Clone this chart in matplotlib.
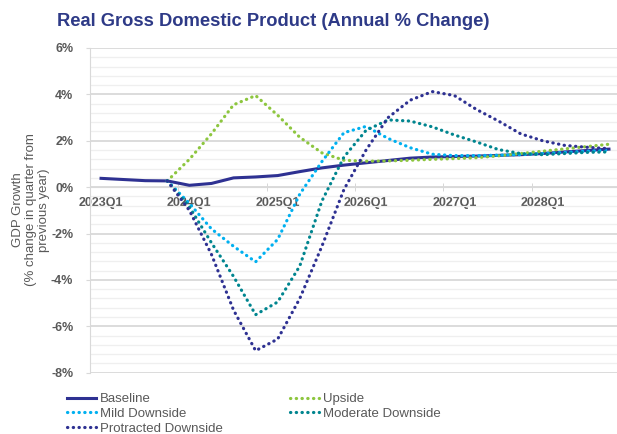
import numpy as np
import matplotlib.pyplot as plt
from matplotlib.ticker import MultipleLocator, FixedLocator, FuncFormatter

plt.rcParams['font.family'] = ['Liberation Sans', 'DejaVu Sans']

years = [2023, 2024, 2025, 2026, 2027, 2028]
quarters = [f"{y}Q{q}" for y in years for q in range(1, 5)]
nan = np.nan

# GDP growth, % change on same quarter of previous year
baseline = [0.38, 0.33, 0.28, 0.27, 0.08, 0.16, 0.40, 0.44, 0.50, 0.67, 0.83, 0.95,
            1.05, 1.15, 1.25, 1.30, 1.32, 1.34, 1.37, 1.40, 1.45, 1.52, 1.58, 1.64]
upside = [nan, nan, nan, 0.27, 1.20, 2.30, 3.55, 3.95, 3.10, 2.15, 1.48, 1.16,
          1.12, 1.13, 1.16, 1.20, 1.23, 1.27, 1.35, 1.45, 1.55, 1.65, 1.75, 1.85]
mild = [nan, nan, nan, 0.27, -0.70, -1.80, -2.55, -3.22, -2.25, -0.30, 1.10, 2.35,
        2.62, 2.10, 1.70, 1.42, 1.36, 1.36, 1.38, 1.40, 1.45, 1.50, 1.55, 1.60]
moderate = [nan, nan, nan, 0.27, -0.85, -2.40, -3.85, -5.50, -4.95, -3.40, -0.60, 1.30,
            2.45, 2.90, 2.85, 2.60, 2.25, 1.95, 1.62, 1.45, 1.40, 1.45, 1.50, 1.52]
protracted = [nan, nan, nan, 0.27, -1.00, -2.90, -5.30, -7.05, -6.55, -4.80, -2.55, -0.10,
              1.60, 3.00, 3.75, 4.12, 3.95, 3.35, 2.85, 2.30, 2.00, 1.80, 1.72, 1.66]

navy = '#2E3192'
grey_txt = '#595959'
dots = (0, (0.1, 1.7))

fig = plt.figure(figsize=(6.17, 4.34), dpi=100)
ax = fig.add_axes([90/617, 1 - 372.7/434, 530/617, (372.7 - 48)/434])

x = np.arange(len(quarters))
h_base, = ax.plot(x, baseline, color=navy, lw=2.2, zorder=4, label='Baseline')
h_up, = ax.plot(x, upside, color='#8DC63F', lw=2.3, ls=dots, dash_capstyle='round', zorder=4, label='Upside')
h_mild, = ax.plot(x, mild, color='#00B0F0', lw=2.3, ls=dots, dash_capstyle='round', zorder=4, label='Mild Downside')
h_mod, = ax.plot(x, moderate, color='#00858F', lw=2.3, ls=dots, dash_capstyle='round', zorder=4, label='Moderate Downside')
h_pro, = ax.plot(x, protracted, color=navy, lw=2.3, ls=dots, dash_capstyle='round', zorder=4, label='Protracted Downside')

ax.set_xlim(-0.5, len(quarters) - 0.5)
ax.set_ylim(-8, 6)

# gridlines
ax.yaxis.set_major_locator(MultipleLocator(2))
ax.yaxis.set_minor_locator(MultipleLocator(0.4))
ax.grid(axis='y', which='major', color='#D9D9D9', lw=1.3)
ax.grid(axis='y', which='minor', color='#EFEFEF', lw=0.9)
ax.yaxis.set_major_formatter(FuncFormatter(lambda v, p: f"{v:.0f}%"))
ax.tick_params(axis='y', which='major', length=3, color='#D9D9D9', pad=9,
               labelsize=9, labelcolor=grey_txt)
ax.tick_params(axis='y', which='minor', length=0)
for t in ax.get_yticklabels():
    t.set_fontweight('bold')

# category axis crossing at zero
ax.spines['bottom'].set_position(('data', 0))
ax.spines['bottom'].set_color('#D9D9D9')
ax.spines['left'].set_color('#D9D9D9')
ax.spines['top'].set_visible(False)
ax.spines['right'].set_visible(False)
ax.xaxis.set_major_locator(FixedLocator(list(range(0, 24, 4))))
ax.set_xticklabels([quarters[i] for i in range(0, 24, 4)], fontweight='bold')
ax.xaxis.set_minor_locator(FixedLocator([3.5, 7.5, 11.5, 15.5, 19.5]))
ax.tick_params(axis='x', which='major', length=0, pad=7, labelsize=9, labelcolor=grey_txt)
ax.tick_params(axis='x', which='minor', length=6, direction='inout', color='#D0D0D0')

fig.text(57/617, 1 - 21/434, 'Real Gross Domestic Product (Annual % Change)',
         fontsize=13.2, fontweight='bold', color='#2E3A87', va='center', ha='left')
fig.text(31/617, 1 - 210/434, 'GDP Growth\n(% change in quarter from\nprevious year)',
         rotation=90, ha='center', va='center', fontsize=9.5, color=grey_txt,
         linespacing=1.15, multialignment='center')

handles = [h_base, h_mild, h_pro, h_up, h_mod]
fig.legend(handles=handles, labels=[h.get_label() for h in handles], ncol=2,
           loc='upper left', bbox_to_anchor=(67/617, 1 - 393/434), frameon=False,
           fontsize=9.5, labelcolor=grey_txt, handlelength=2.2, handletextpad=0.3,
           labelspacing=0.2, columnspacing=5.1, borderpad=0, borderaxespad=0)

fig.savefig('out.png', dpi=100)
